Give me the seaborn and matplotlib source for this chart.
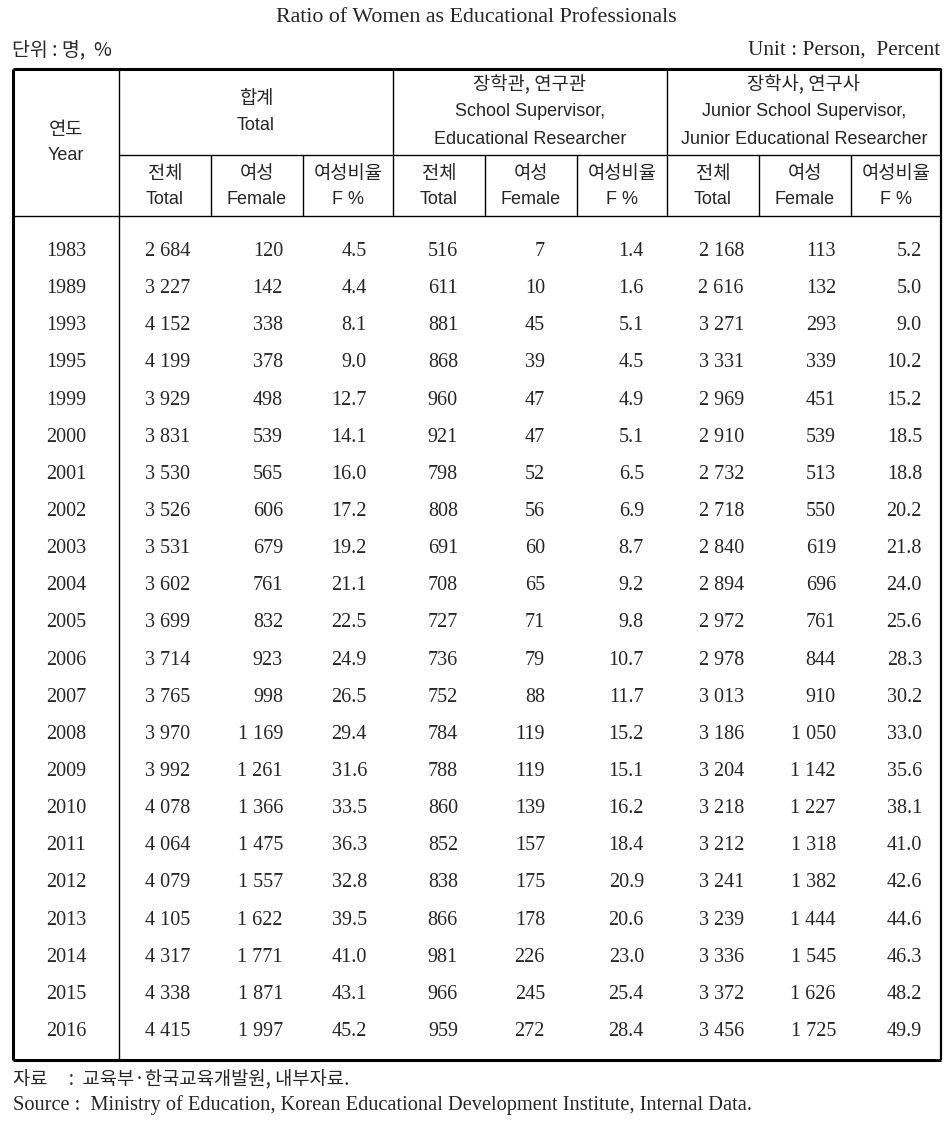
import numpy as np
import matplotlib
matplotlib.use("Agg")
import matplotlib.pyplot as plt
import seaborn as sns

# Table data
years = [1983, 1989, 1993, 1995, 1999, 2000, 2001, 2002, 2003, 2004, 2005,
         2006, 2007, 2008, 2009, 2010, 2011, 2012, 2013, 2014, 2015, 2016]
total_all = [2684, 3227, 4152, 4199, 3929, 3831, 3530, 3526, 3531, 3602, 3699,
             3714, 3765, 3970, 3992, 4078, 4064, 4079, 4105, 4317, 4338, 4415]
total_female = [120, 142, 338, 378, 498, 539, 565, 606, 679, 761, 832,
                923, 998, 1169, 1261, 1366, 1475, 1557, 1622, 1771, 1871, 1997]
total_pct = [4.5, 4.4, 8.1, 9.0, 12.7, 14.1, 16.0, 17.2, 19.2, 21.1, 22.5,
             24.9, 26.5, 29.4, 31.6, 33.5, 36.3, 32.8, 39.5, 41.0, 43.1, 45.2]
sup_all = [516, 611, 881, 868, 960, 921, 798, 808, 691, 708, 727,
           736, 752, 784, 788, 860, 852, 838, 866, 981, 966, 959]
sup_female = [7, 10, 45, 39, 47, 47, 52, 56, 60, 65, 71,
              79, 88, 119, 119, 139, 157, 175, 178, 226, 245, 272]
sup_pct = [1.4, 1.6, 5.1, 4.5, 4.9, 5.1, 6.5, 6.9, 8.7, 9.2, 9.8,
           10.7, 11.7, 15.2, 15.1, 16.2, 18.4, 20.9, 20.6, 23.0, 25.4, 28.4]
jun_all = [2168, 2616, 3271, 3331, 2969, 2910, 2732, 2718, 2840, 2894, 2972,
           2978, 3013, 3186, 3204, 3218, 3212, 3241, 3239, 3336, 3372, 3456]
jun_female = [113, 132, 293, 339, 451, 539, 513, 550, 619, 696, 761,
              844, 910, 1050, 1142, 1227, 1318, 1382, 1444, 1545, 1626, 1725]
jun_pct = [5.2, 5.0, 9.0, 10.2, 15.2, 18.5, 18.8, 20.2, 21.8, 24.0, 25.6,
           28.3, 30.2, 33.0, 35.6, 38.1, 41.0, 42.6, 44.6, 46.3, 48.2, 49.9]

group_ko = ["합계", "장학관, 연구관", "장학사, 연구사"]
group_en = [["Total"],
            ["School Supervisor,", "Educational Researcher"],
            ["Junior School Supervisor,", "Junior Educational Researcher"]]
sub_ko = ["전체", "여성", "여성비율"]
sub_en = ["Total", "Female", "F %"]

title = "Ratio of Women as Educational Professionals"
unit_ko = "단위 : 명,  %"
unit_en = "Unit : Person,  Percent"
source_ko = "자료     :  교육부·한국교육개발원, 내부자료."
source_en = "Source :  Ministry of Education, Korean Educational Development Institute, Internal Data."

sns.set_theme(style="white")
plt.rcParams["font.family"] = ["Liberation Serif", "Noto Sans CJK KR", "DejaVu Sans"]
KO = ["Noto Sans CJK KR", "DejaVu Sans"]
SANS = ["Liberation Sans", "Noto Sans CJK KR"]
SERIF = ["Liberation Serif", "Noto Sans CJK KR"]

W, H = 953, 1124
fig = plt.figure(figsize=(W / 100, H / 100), dpi=100)
ax = fig.add_axes([0, 0, 1, 1])
ax.set_xlim(0, W)
ax.set_ylim(H, 0)
ax.axis("off")

# layout (pixels)
xb = [13, 119, 211, 303, 393, 485, 577, 667, 759, 851, 941]
top, mid, hdr, bot = 69, 155, 216, 1060
right_anchor = [190, 283, 367, 458, 545, 644, 744, 836, 922]
row_y = np.linspace(249, 1029, len(years))

# title and units
ax.text(W / 2, 18, title, ha="center", va="center", fontsize=15.8, family=SERIF)
ax.text(12, 50, unit_ko, ha="left", va="center", fontsize=14, family=KO)
ax.text(940, 50, unit_en, ha="right", va="center", fontsize=15.3, family=SERIF)

# borders
lw_thick, lw_thin = 2.2, 1.0
ax.hlines([top, bot], xb[0], xb[-1], color="black", lw=lw_thick)
ax.hlines(hdr, xb[0], xb[-1], color="black", lw=lw_thin)
ax.hlines(mid, xb[1], xb[-1], color="black", lw=lw_thin)
ax.vlines(xb[0], top, bot, color="black", lw=lw_thick)
ax.vlines(xb[-1], top, bot, color="black", lw=1.6)
ax.vlines(xb[1], top, bot, color="black", lw=lw_thin)
ax.vlines([xb[4], xb[7]], top, hdr, color="black", lw=lw_thin)
ax.vlines([xb[i] for i in (2, 3, 5, 6, 8, 9)], mid, hdr, color="black", lw=lw_thin)

# header
hfs_ko, hfs_en = 13.5, 13
ax.text((xb[0] + xb[1]) / 2, 130, "연도", ha="center", va="center", fontsize=hfs_ko, family=KO)
ax.text((xb[0] + xb[1]) / 2, 156, "Year", ha="center", va="center", fontsize=hfs_en, family=SANS)
for g in range(3):
    cx = (xb[1 + 3 * g] + xb[4 + 3 * g]) / 2
    lines = [(group_ko[g], KO, hfs_ko)] + [(t, SANS, hfs_en) for t in group_en[g]]
    y0 = 112 - (len(lines) - 1) * 27.5 / 2
    for k, (t, fam, fs) in enumerate(lines):
        ax.text(cx, y0 + k * 27.5, t, ha="center", va="center", fontsize=fs, family=fam)
    for s in range(3):
        c = 1 + 3 * g + s
        sx = (xb[c] + xb[c + 1]) / 2
        ax.text(sx, 173, sub_ko[s], ha="center", va="center", fontsize=hfs_ko, family=KO)
        ax.text(sx, 200, sub_en[s], ha="center", va="center", fontsize=hfs_en, family=SANS)

# body
columns = [total_all, total_female, total_pct,
           sup_all, sup_female, sup_pct,
           jun_all, jun_female, jun_pct]


def fmt(v):
    if isinstance(v, float):
        return f"{v:.1f}"
    return f"{v:,}".replace(",", " ")


dfs = 14.5
for i, yr in enumerate(years):
    y = row_y[i]
    ax.text((xb[0] + xb[1]) / 2, y, str(yr), ha="center", va="center_baseline",
            fontsize=dfs, family=SERIF)
    for c, col in enumerate(columns):
        ax.text(right_anchor[c], y, fmt(col[i]), ha="right", va="center_baseline",
                fontsize=dfs, family=SERIF)

# source
ax.text(13, 1080, source_ko, ha="left", va="center", fontsize=13.5, family=KO)
ax.text(13, 1105, source_en, ha="left", va="center", fontsize=14.7, family=SERIF)

fig.savefig("out.png", dpi=100)
